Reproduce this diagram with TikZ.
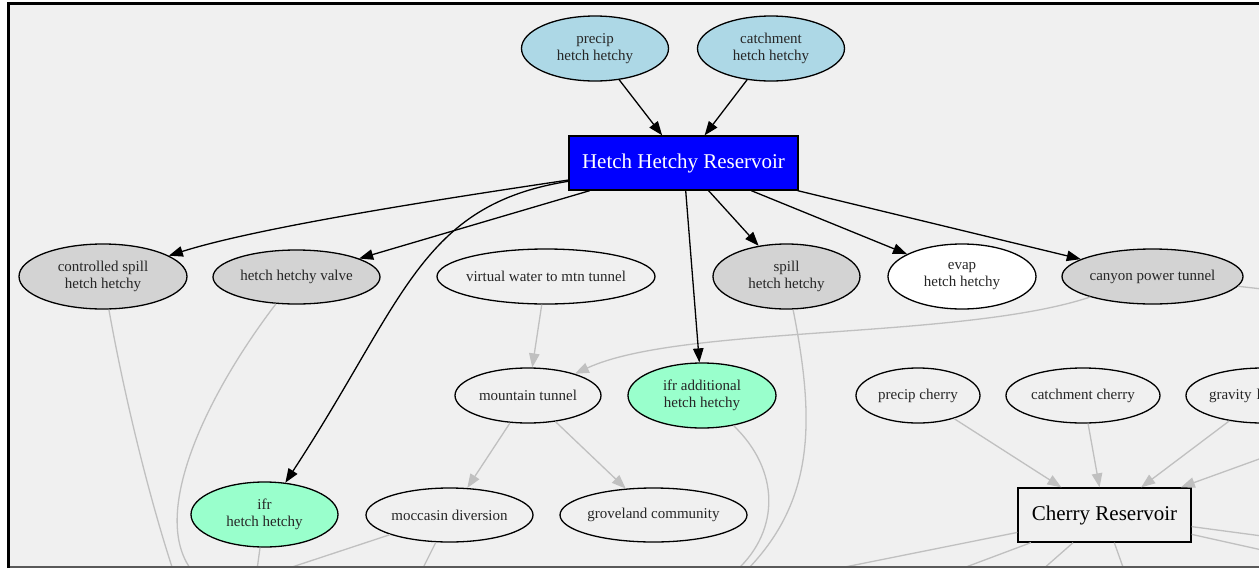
\documentclass[tikz,border=0pt]{standalone}
\usepackage{fontspec}
\setmainfont{Liberation Serif}
\usetikzlibrary{shapes.geometric,arrows.meta}
\definecolor{bgc}{HTML}{F0F0F0}
\definecolor{lgray}{HTML}{D3D3D3}
\definecolor{lblue}{HTML}{ADD8E6}
\definecolor{mint}{HTML}{99FFCC}
\definecolor{egray}{HTML}{C0C0C0}
\definecolor{hhblue}{HTML}{0000FF}
\begin{document}
\begin{tikzpicture}[x=1pt,y=-1pt,
  el/.style={ellipse,draw=black,line width=1.3pt,inner xsep=-6pt,inner ysep=0pt,
    font=\fontsize{15}{17}\selectfont,align=center,text=black!85},
  bx/.style={rectangle,draw=black,line width=1.3pt,inner sep=0pt,
    font=\fontsize{21}{24}\selectfont},
  bk/.style={draw=black,line width=1.3pt,-{Triangle[length=14pt,width=10.5pt]}},
  gy/.style={draw=egray,line width=1.3pt,-{Triangle[length=14pt,width=10.5pt]}},
  gl/.style={draw=egray,line width=1.3pt}
]
\useasboundingbox (0,0) rectangle (1259,568);
\fill[white] (0,0) rectangle (1259,568);
\fill[bgc] (10,5) rectangle (1259,567);
\begin{scope}
\clip (10,5) rectangle (1259,566.5);
% nodes
\node[el,fill=lblue,minimum width=147,minimum height=65] (prhh) at (595,48.5) {precip\\hetch hetchy};
\node[el,fill=lblue,minimum width=147,minimum height=65] (cahh) at (771,48.5) {catchment\\hetch hetchy};
\node[bx,fill=hhblue,text=white,minimum width=229,minimum height=54] (hhr) at (683.5,163) {Hetch Hetchy Reservoir};
\node[el,fill=lgray,minimum width=168,minimum height=65] (cs) at (103,276.5) {controlled spill\\hetch hetchy};
\node[el,fill=lgray,minimum width=167,minimum height=54] (hhv) at (296.5,277) {hetch hetchy valve};
\node[el,fill=bgc,minimum width=218,minimum height=55] (vw) at (546,276.5) {virtual water to mtn tunnel};
\node[el,fill=lgray,minimum width=147,minimum height=65] (sp) at (786.5,276.5) {spill\\hetch hetchy};
\node[el,fill=white,minimum width=148,minimum height=65] (ev) at (962,276.5) {evap\\hetch hetchy};
\node[el,fill=lgray,minimum width=181,minimum height=55] (cpt) at (1152.5,276.5) {canyon power tunnel};
\node[el,fill=bgc,minimum width=146,minimum height=55] (mt) at (528,395.5) {mountain tunnel};
\node[el,fill=mint,minimum width=148,minimum height=65] (ifra) at (702,395.5) {ifr additional\\hetch hetchy};
\node[el,fill=bgc,minimum width=124,minimum height=55] (pc) at (918,395.5) {precip cherry};
\node[el,fill=bgc,minimum width=154,minimum height=55] (cc) at (1083,395.5) {catchment cherry};
\node[el,fill=bgc,minimum width=154,minimum height=55,text width=108pt,align=left] (grav) at (1263,395.5) {gravity l};
\node[el,fill=mint,minimum width=147,minimum height=65] (ifr) at (264.5,514.5) {ifr\\hetch hetchy};
\node[el,fill=bgc,minimum width=167,minimum height=54] (moc) at (449.5,515) {moccasin diversion};
\node[el,fill=bgc,minimum width=187,minimum height=54] (grv) at (653.5,515) {groveland community};
\node[bx,fill=bgc,minimum width=173,minimum height=54] (cr) at (1104.5,515) {Cherry Reservoir};
% free ends
\coordinate (cptR) at (1262,289);
\coordinate (crIn) at (1262,458);
\coordinate (csD) at (173,570);
\coordinate (hhvD) at (190,568);
\coordinate (ifrD) at (257,570);
\coordinate (mocD1) at (283,570);
\coordinate (mocD2) at (422,570);
\coordinate (ifraD) at (737,570);
\coordinate (spD) at (747,570);
\coordinate (crD1) at (830,570);
\coordinate (crD2) at (958,570);
\coordinate (crD3) at (1042,570);
\coordinate (crD4) at (1124,570);
\coordinate (crR1) at (1262,536);
\coordinate (crR2) at (1262,550);
% gray edges
\draw[gy] (vw) -- (mt);
\draw[gy] (cpt) .. controls (960,340) and (680,325) .. (mt);
\draw[gl] (cpt) -- (cptR);
\draw[gy] (mt) -- (moc);
\draw[gy] (mt) -- (grv);
\draw[gy] (pc) -- (cr);
\draw[gy] (cc) -- (cr);
\draw[gy] (grav) -- (cr);
\draw[gy] (crIn) -- (cr);
\draw[gl] (cs) .. controls (125,400) and (150,500) .. (csD);
\draw[gl] (hhv) .. controls (210,390) and (150,510) .. (hhvD);
\draw[gl] (ifr) -- (ifrD);
\draw[gl] (moc) -- (mocD1);
\draw[gl] (moc) -- (mocD2);
\draw[gl] (ifra) .. controls (780,470) and (780,530) .. (ifraD);
\draw[gl] (sp) .. controls (815,420) and (815,500) .. (spD);
\draw[gl] (cr) -- (crD1);
\draw[gl] (cr) -- (crD2);
\draw[gl] (cr) -- (crD3);
\draw[gl] (cr) -- (crD4);
\draw[gl] (cr) -- (crR1);
\draw[gl] (cr) -- (crR2);
% black edges
\draw[bk] (prhh) -- (hhr);
\draw[bk] (cahh) -- (hhr);
\draw[bk] (hhr) .. controls (400,205) and (250,230) .. (cs);
\draw[bk] (hhr) -- (hhv);
\draw[bk] (hhr) .. controls (420,205) and (405,300) .. (ifr);
\draw[bk] (hhr) -- (ifra);
\draw[bk] (hhr) -- (sp);
\draw[bk] (hhr) -- (ev);
\draw[bk] (hhr) -- (cpt);
\end{scope}
% frame
\draw[black,line width=3pt] (8.5,568) -- (8.5,3.5) -- (1259,3.5);
\draw[black!65,line width=1.5pt] (10,567.2) -- (1259,567.2);
\end{tikzpicture}
\end{document}
